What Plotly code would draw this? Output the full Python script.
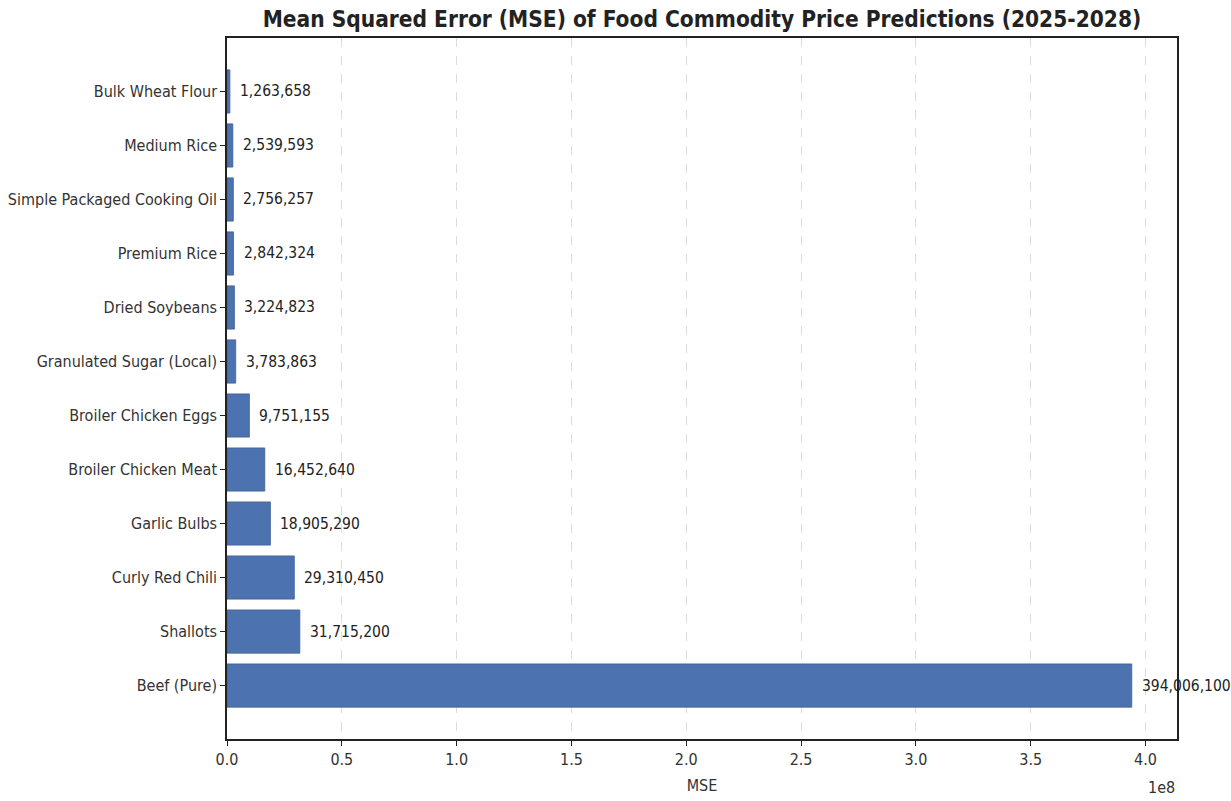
import plotly.graph_objects as go

categories = ["Bulk Wheat Flour", "Medium Rice", "Simple Packaged Cooking Oil", "Premium Rice",
              "Dried Soybeans", "Granulated Sugar (Local)", "Broiler Chicken Eggs",
              "Broiler Chicken Meat", "Garlic Bulbs", "Curly Red Chili", "Shallots", "Beef (Pure)"]
mse_values = [1263658, 2539593, 2756257, 2842324, 3224823, 3783863, 9751155,
              16452640, 18905290, 29310450, 31715200, 394006100]
tick_values = [0, 0.5e8, 1.0e8, 1.5e8, 2.0e8, 2.5e8, 3.0e8, 3.5e8, 4.0e8]
tick_labels = ["0.0", "0.5", "1.0", "1.5", "2.0", "2.5", "3.0", "3.5", "4.0"]

FONT = "DejaVu Sans Condensed, Liberation Sans Narrow, DejaVu Sans, sans-serif"

fig = go.Figure()
fig.add_trace(go.Bar(
    y=categories, x=mse_values, orientation="h",
    marker=dict(color="#4C72B0", line=dict(color="#3d5f96", width=0.8)),
    width=0.8, showlegend=False, hoverinfo="x+y",
))

for c, v in zip(categories, mse_values):
    fig.add_annotation(x=v, y=c, xref="x", yref="y", text=f"{v:,}",
                       showarrow=False, xanchor="left", xshift=8,
                       font=dict(family=FONT, size=15.5, color="#222222"))

fig.add_annotation(x=1.0, y=-0.053, xref="paper", yref="paper", text="1e8",
                   showarrow=False, xanchor="right", yanchor="top",
                   font=dict(family=FONT, size=16, color="#333333"))

xmax = max(mse_values) * 1.05
fig.update_layout(
    width=1231, height=801,
    margin=dict(l=227, r=54, t=38, b=62, autoexpand=False),
    paper_bgcolor="white", plot_bgcolor="white",
    font=dict(family=FONT, size=16, color="#333333"),
    title=dict(text="<b>Mean Squared Error (MSE) of Food Commodity Price Predictions (2025-2028)</b>",
               x=0.5, xref="paper", y=1 - 19 / 801, yref="container", yanchor="middle",
               font=dict(family=FONT, size=22.5, color="#222222")),
    xaxis=dict(range=[0, xmax], tickvals=tick_values, ticktext=tick_labels,
               showgrid=True, gridcolor="#dcdcdc", griddash="dash", gridwidth=1,
               showline=True, linecolor="#222222", linewidth=1.5, mirror=True,
               ticks="outside", ticklen=5, tickcolor="#222222", zeroline=False,
               automargin=False,
               title=dict(text="MSE", standoff=12, font=dict(family=FONT, size=16, color="#333333")),
               tickfont=dict(family=FONT, size=16, color="#333333")),
    yaxis=dict(categoryorder="array", categoryarray=categories, autorange=False,
               range=[len(categories) - 1 + 0.99, -0.99], automargin=False,
               showgrid=False, showline=True, linecolor="#222222", linewidth=1.5, mirror=True,
               ticks="outside", ticklen=5, tickcolor="#222222", zeroline=False,
               tickfont=dict(family=FONT, size=16, color="#333333")),
)

fig.write_html("out.html", config={"displayModeBar": False},
               post_script="document.body.style.margin='0';document.body.style.overflow='hidden';")
